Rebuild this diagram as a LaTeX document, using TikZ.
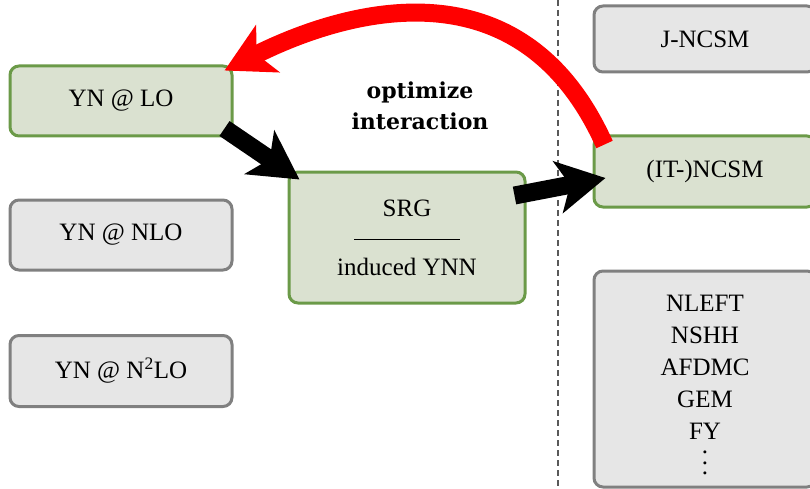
\documentclass[tikz,border=0pt]{standalone}
\usepackage{fontspec}
\setmainfont{Liberation Serif}
\newfontfamily\labelfont{DejaVu Serif}
\usetikzlibrary{arrows.meta,calc}
\definecolor{gfill}{HTML}{DAE1D0}
\definecolor{gdraw}{HTML}{6B9A48}
\definecolor{hfill}{HTML}{E6E6E6}
\definecolor{hdraw}{HTML}{808080}
\definecolor{redarr}{HTML}{FF0000}
\newcommand{\dotstack}{\vbox{\baselineskip=10.5pt\lineskiplimit=-100pt\hbox{.}\hbox{.}\hbox{.}}}
\tikzset{
  box/.style={rectangle, rounded corners=9pt, line width=3pt, inner sep=0pt,
    align=center, font=\fontsize{25}{32}\selectfont},
  greenbox/.style={box, fill=gfill, draw=gdraw},
  greybox/.style={box, fill=hfill, draw=hdraw},
  bigarrow/.style={line width=18pt, -{Stealth[length=48pt, width=52pt, inset=12pt]}},
}
\begin{document}
\begin{tikzpicture}[x=1pt, y=-1pt]
\useasboundingbox (0,0) rectangle (810,489);
% divider
\draw[line width=1.3pt, color=black!65, dash pattern=on 6pt off 4pt] (558,0) -- (558,489);
% left column
\node[greenbox, minimum width=222pt, minimum height=70pt] (lo) at (121,101) {YN @ LO};
\node[greybox, minimum width=222pt, minimum height=70pt] (nlo) at (121,235) {YN @ NLO};
\node[greybox, minimum width=222pt, minimum height=71pt] (nnlo) at (121,371) {YN @ N\textsuperscript{2}LO};
% SRG
\node[greenbox, minimum width=236pt, minimum height=131pt] (srg) at (407,237.5)
  {SRG\\[-1pt]\rule[7pt]{106pt}{1.6pt}\\[-4pt]induced YNN};
% right column
\node[greybox, minimum width=222pt, minimum height=66pt] (jncsm) at (705,39) {J-NCSM};
\node[greenbox, minimum width=222pt, minimum height=71pt] (itncsm) at (705,171.5) {(IT-)NCSM};
\node[greybox, minimum width=222pt, minimum height=216pt] (others) at (705,379) {};
\node[font=\fontsize{25}{32}\selectfont, align=center, inner sep=0pt, anchor=north] (list) at (705,295)
  {NLEFT\\NSHH\\AFDMC\\GEM\\FY\\[3pt]\dotstack};
% label
\node[font=\labelfont\bfseries\fontsize{22}{31}\selectfont, align=center] (opt) at (420,106) {optimize\\interaction};
% arrows
\coordinate (a1s) at ([shift={(-9,-9)}]lo.south east);
\coordinate (a1e) at ([shift={(12,9)}]srg.north west);
\draw[bigarrow] (a1s) -- (a1e);
\coordinate (a2s) at ([shift={(-12,25)}]srg.north east);
\coordinate (a2e) at ([shift={(13,6.5)}]itncsm.west);
\draw[bigarrow] (a2s) -- (a2e);
\coordinate (rs) at ([shift={(12,10)}]itncsm.north west);
\coordinate (re) at ([shift={(-9,6)}]lo.north east);
\draw[bigarrow, color=redarr] (rs) .. controls (515,-55) and (321,22) .. (re);
\end{tikzpicture}
\end{document}
